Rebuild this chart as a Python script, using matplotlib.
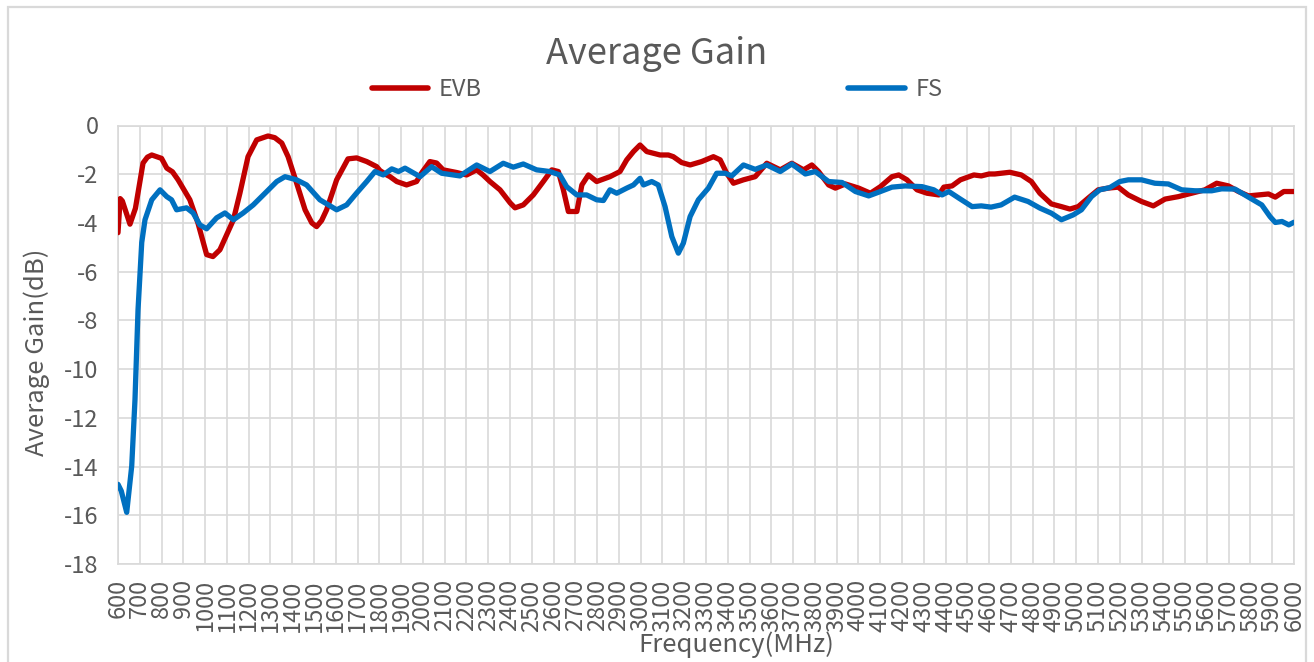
import matplotlib
matplotlib.use("Agg")
import matplotlib.pyplot as plt
from matplotlib.patches import Rectangle

plt.rcParams['font.family'] = ['Noto Sans CJK SC', 'DejaVu Sans']
plt.rcParams['axes.unicode_minus'] = False

# ---- data ----
evb_freq = [600, 610, 620, 655, 680, 715, 735, 755, 793, 800, 824, 850, 876, 930, 967,
            1007, 1036, 1068, 1099, 1130, 1160, 1197, 1237, 1289, 1320, 1352, 1381, 1420,
            1459, 1490, 1512, 1535, 1558, 1604, 1656, 1696, 1742, 1788, 1803, 1834, 1849,
            1880, 1925, 1971, 1994, 2032, 2063, 2093, 2155, 2201, 2247, 2276, 2308, 2354,
            2401, 2423, 2461, 2507, 2553, 2592, 2622, 2645, 2668, 2707, 2730, 2760, 2798,
            2859, 2905, 2936, 2967, 2997, 3028, 3089, 3127, 3150, 3188, 3227, 3280, 3334,
            3365, 3395, 3426, 3472, 3526, 3579, 3641, 3694, 3748, 3786, 3817, 3863, 3894,
            3940, 4001, 4055, 4101, 4154, 4185, 4223, 4269, 4315, 4369, 4392, 4430, 4468,
            4530, 4564, 4600, 4626, 4695, 4748, 4794, 4833, 4886, 4932, 4971, 5009, 5055,
            5101, 5147, 5193, 5239, 5300, 5354, 5408, 5469, 5530, 5591, 5645, 5699, 5745,
            5791, 5837, 5883, 5914, 5953, 6000]
evb_gain = [-4.4, -3.0, -3.1, -4.05, -3.4, -1.54, -1.3, -1.21, -1.33, -1.35, -1.75, -1.9,
            -2.23, -3.05, -4.0, -5.3, -5.38, -5.1, -4.49, -3.87, -2.77, -1.28, -0.59, -0.43,
            -0.5, -0.72, -1.28, -2.36, -3.46, -4.0, -4.15, -3.9, -3.46, -2.23, -1.37, -1.33,
            -1.48, -1.69, -1.85, -2.03, -2.1, -2.3, -2.44, -2.3, -1.95, -1.48, -1.54, -1.82,
            -1.93, -2.03, -1.82, -2.03, -2.3, -2.64, -3.18, -3.38, -3.26, -2.85, -2.3, -1.82,
            -1.89, -2.64, -3.53, -3.53, -2.44, -2.03, -2.3, -2.1, -1.89, -1.41, -1.07, -0.8,
            -1.07, -1.21, -1.21, -1.28, -1.52, -1.62, -1.48, -1.28, -1.41, -1.96, -2.37,
            -2.23, -2.1, -1.55, -1.82, -1.55, -1.82, -1.62, -1.89, -2.44, -2.57, -2.4, -2.57,
            -2.78, -2.51, -2.1, -2.03, -2.23, -2.64, -2.78, -2.85, -2.53, -2.48, -2.23, -2.03,
            -2.07, -1.99, -1.99, -1.92, -2.03, -2.3, -2.78, -3.22, -3.33, -3.43, -3.33, -2.98,
            -2.64, -2.57, -2.53, -2.85, -3.12, -3.3, -3.02, -2.92, -2.78, -2.64, -2.37, -2.48,
            -2.71, -2.89, -2.85, -2.81, -2.94, -2.71, -2.71]

fs_freq = [600, 615, 640, 663, 678, 692, 709, 724, 755, 793, 824, 846, 869, 915, 945, 976,
           1007, 1053, 1091, 1130, 1175, 1221, 1283, 1329, 1367, 1420, 1466, 1527, 1604,
           1650, 1696, 1742, 1780, 1818, 1857, 1888, 1918, 1987, 2040, 2086, 2170, 2247,
           2308, 2369, 2415, 2461, 2522, 2583, 2629, 2660, 2707, 2752, 2798, 2829, 2859,
           2890, 2936, 2967, 2997, 3013, 3051, 3081, 3112, 3143, 3173, 3196, 3227, 3265,
           3311, 3349, 3388, 3418, 3472, 3526, 3579, 3641, 3694, 3756, 3802, 3863, 3925,
           3986, 4047, 4101, 4154, 4215, 4292, 4346, 4384, 4415, 4461, 4522, 4564, 4609,
           4655, 4717, 4779, 4833, 4886, 4932, 4986, 5024, 5070, 5108, 5154, 5200, 5239,
           5300, 5361, 5423, 5484, 5545, 5622, 5668, 5729, 5791, 5852, 5890, 5914, 5945,
           5976, 6000]
fs_gain = [-14.73, -15.0, -15.88, -13.98, -11.25, -7.56, -4.8, -3.87, -3.05, -2.64, -2.92,
           -3.05, -3.46, -3.38, -3.59, -4.08, -4.24, -3.79, -3.59, -3.87, -3.59, -3.26, -2.71,
           -2.3, -2.1, -2.23, -2.44, -3.05, -3.46, -3.26, -2.77, -2.3, -1.89, -2.03, -1.78,
           -1.89, -1.75, -2.1, -1.69, -1.96, -2.07, -1.62, -1.89, -1.55, -1.71, -1.58, -1.82,
           -1.89, -2.03, -2.51, -2.85, -2.85, -3.05, -3.08, -2.64, -2.78, -2.57, -2.44, -2.17,
           -2.44, -2.3, -2.44, -3.33, -4.56, -5.24, -4.83, -3.74, -3.05, -2.57, -1.96, -1.96,
           -2.07, -1.62, -1.8, -1.62, -1.89, -1.58, -1.99, -1.89, -2.3, -2.34, -2.71, -2.89,
           -2.71, -2.53, -2.48, -2.51, -2.64, -2.85, -2.71, -2.98, -3.33, -3.3, -3.35, -3.26,
           -2.94, -3.12, -3.39, -3.6, -3.87, -3.67, -3.46, -2.92, -2.64, -2.55, -2.3, -2.23,
           -2.23, -2.37, -2.4, -2.64, -2.68, -2.68, -2.6, -2.61, -2.94, -3.26, -3.74, -3.98,
           -3.94, -4.08, -3.97]

x_ticks = list(range(600, 6001, 100))
y_ticks = list(range(-18, 1, 2))

TXT = '#595959'
GRID = '#d9d9d9'
RED = '#C00000'
BLUE = '#0070C0'

W, H = 1314, 662
fig = plt.figure(figsize=(W / 100, H / 100), dpi=100)
ax = fig.add_axes([118 / W, 1 - 564 / H, (1294 - 118) / W, (564 - 125.5) / H])

ax.plot(evb_freq, evb_gain, color=RED, lw=3.8, solid_capstyle='round', label='EVB', zorder=3)
ax.plot(fs_freq, fs_gain, color=BLUE, lw=3.8, solid_capstyle='round', label='FS', zorder=4)

ax.set_xlim(600, 6000)
ax.set_ylim(-18, 0)
ax.set_xticks(x_ticks)
ax.set_xticklabels([str(t) for t in x_ticks], rotation=90)
ax.set_yticks(y_ticks)
ax.grid(True, color=GRID, lw=1.2)
ax.set_axisbelow(True)
for s in ax.spines.values():
    s.set_color(GRID)
    s.set_linewidth(1.2)
ax.tick_params(axis='both', length=0, colors=TXT, labelsize=17)
ax.tick_params(axis='y', pad=14)
ax.tick_params(axis='x', pad=11)

fig.text(657 / W, 1 - 64 / H, 'Average Gain', ha='center', va='baseline',
         fontsize=26, color=TXT, fontweight='light')
fig.text(736.5 / W, 1 - 652 / H, 'Frequency(MHz)', ha='center', va='baseline',
         fontsize=18.5, color=TXT)
fig.text(37 / W, 1 - 352 / H, 'Average Gain(dB)', ha='center', va='center',
         rotation=90, fontsize=18.5, color=TXT)

leg = fig.legend(loc='center', bbox_to_anchor=(657 / W, 1 - 90 / H), ncol=2, frameon=False,
                 fontsize=17, handlelength=2.4, handletextpad=0.45, columnspacing=15.5,
                 labelcolor=TXT)
for l in leg.get_lines():
    l.set_linewidth(4)
    l.set_solid_capstyle('round')

fig.add_artist(Rectangle((7.5 / W, -0.02), (1305.5 - 7.5) / W, 1.02 - 6.5 / H,
                         transform=fig.transFigure, fill=False, ec=GRID, lw=1.6))

fig.savefig('out.png', dpi=100)
